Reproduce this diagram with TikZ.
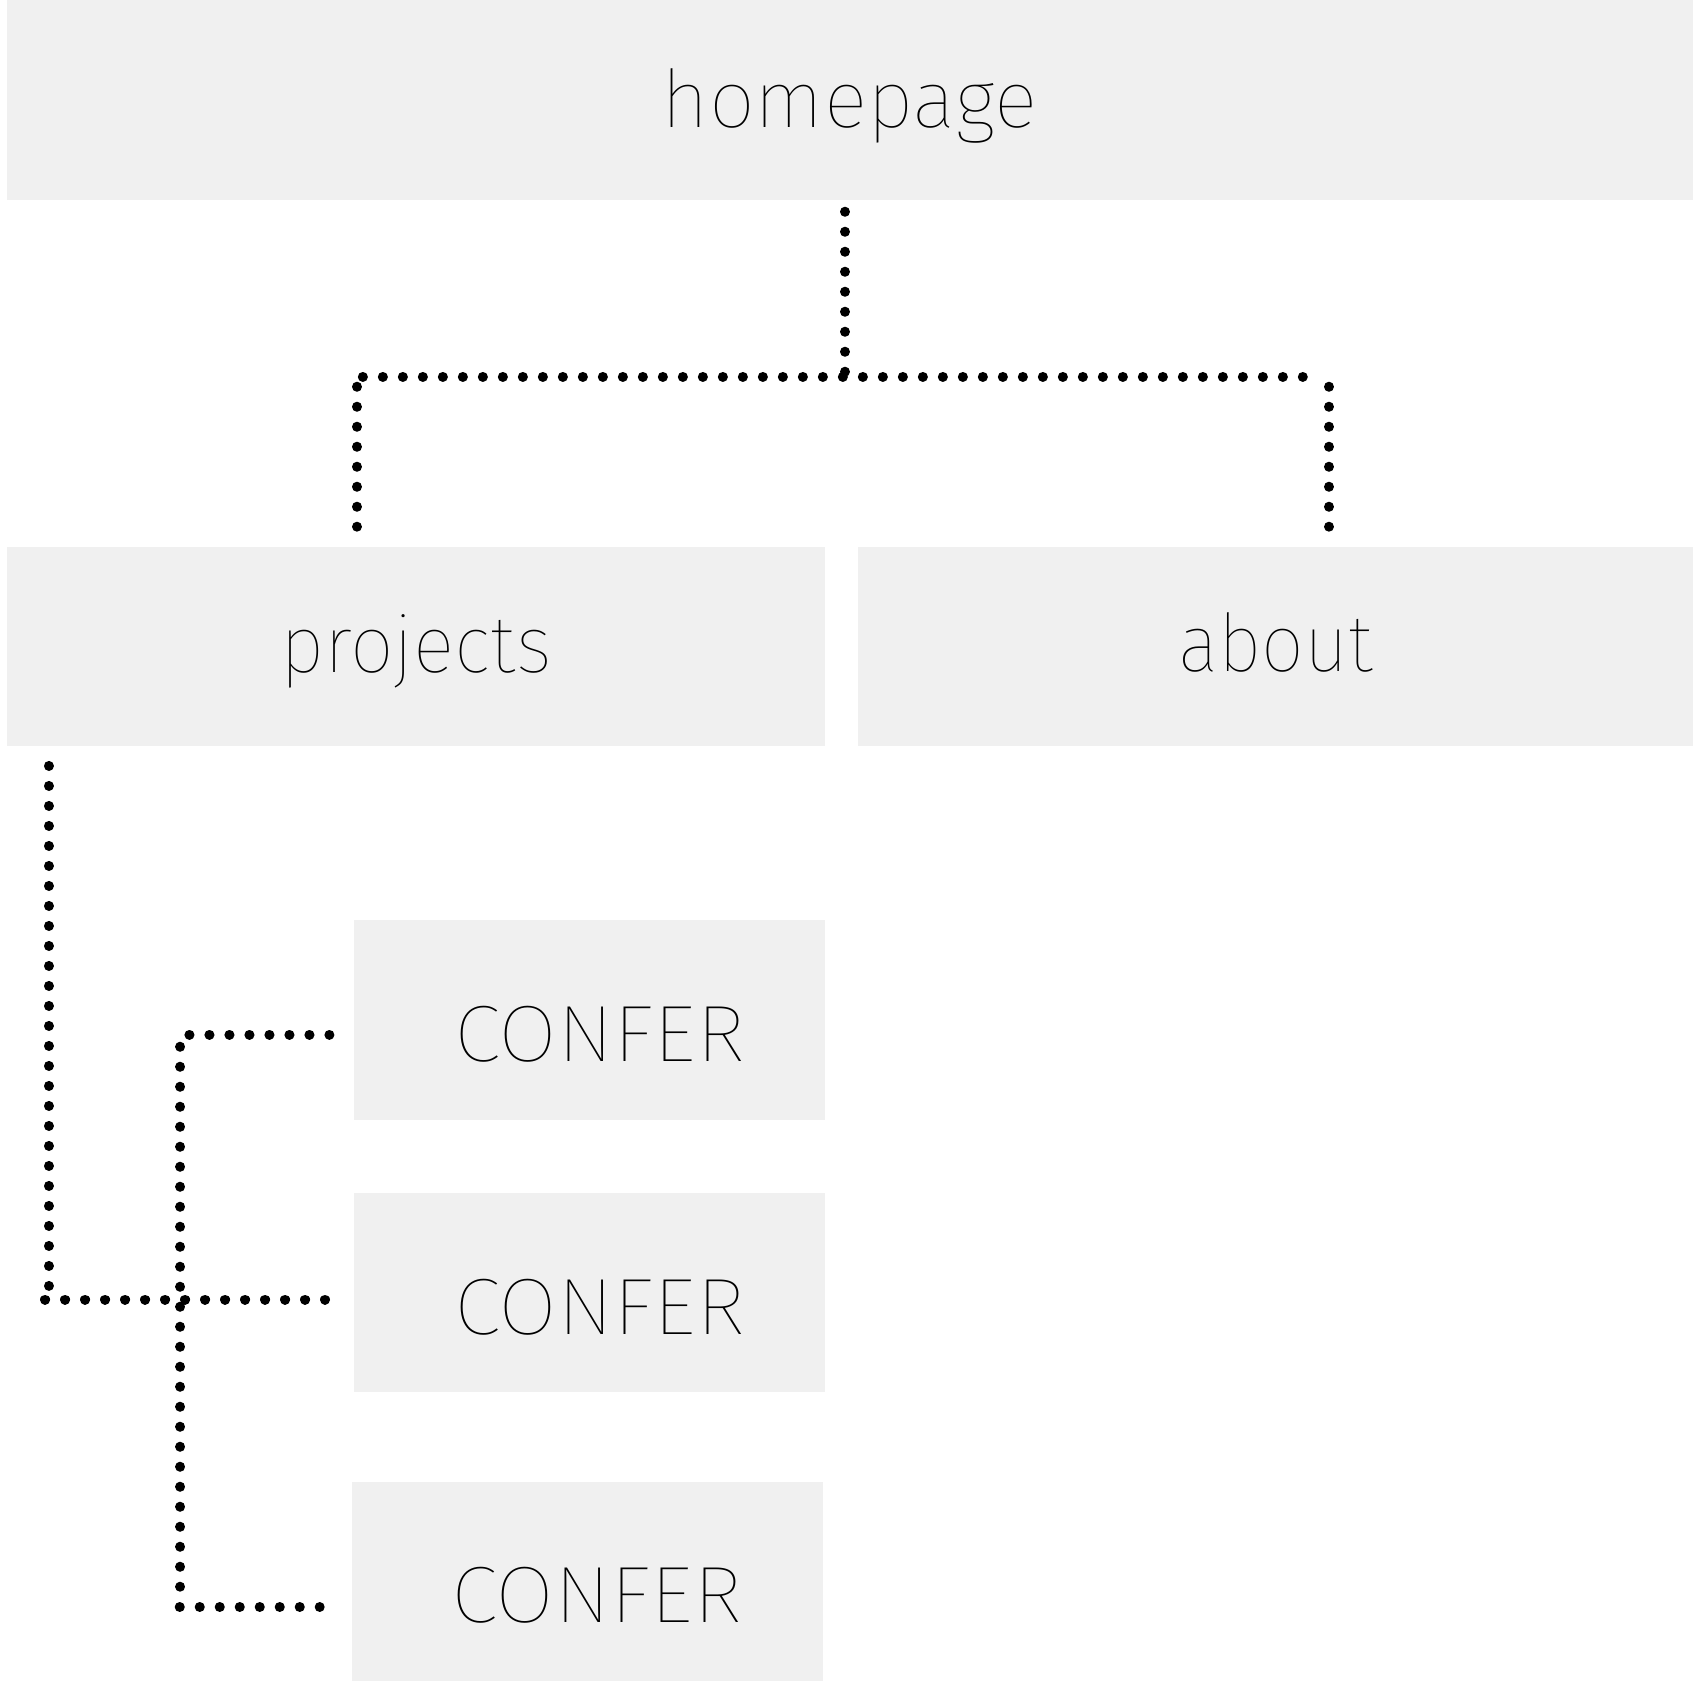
\documentclass[tikz,border=0pt]{standalone}
\usepackage{fontspec}
\IfFontExistsTF{Fira Sans Thin}{\setmainfont{Fira Sans Thin}}{\setmainfont{Fira Sans ExtraLight}}
\definecolor{boxgray}{HTML}{F0F0F0}
\begin{document}
\begin{tikzpicture}[x=1pt,y=-1pt,
  pbox/.style={fill=boxgray,draw=none,inner sep=0pt,anchor=north west},
  lbl/.style={anchor=base,inner sep=0pt,font=\fontsize{80}{96}\selectfont},
  dotline/.style={line width=10pt,line cap=round,dash pattern=on 0.1pt off 19.9pt}]
\useasboundingbox[fill=white] (0,0) rectangle (1698,1681);
% boxes
\node[pbox,minimum width=1686pt,minimum height=200pt] (home) at (6.5,0) {};
\node[pbox,minimum width=818.5pt,minimum height=199pt] (proj) at (6.5,547) {};
\node[pbox,minimum width=835pt,minimum height=199pt] (about) at (857.6,547) {};
\node[pbox,minimum width=471pt,minimum height=200pt] (c1) at (354,919.5) {};
\node[pbox,minimum width=471pt,minimum height=199.5pt] (c2) at (354,1192.5) {};
\node[pbox,minimum width=471pt,minimum height=199.5pt] (c3) at (352,1481.5) {};
% labels
\node[lbl] (homet) at (849.5,127) {\scalebox{1.02}[1]{homepage}};
\node[lbl] (projt) at (416,672.5) {\scalebox{0.97}[1]{projects}};
\node[lbl] (aboutt) at (1275.5,671) {\scalebox{0.95}[1]{about}};
\node[lbl] (c1t) at (599.5,1061.5) {\scalebox{1.068}[1]{CONFER}};
\node[lbl] (c2t) at (599.5,1334.5) {\scalebox{1.068}[1]{CONFER}};
\node[lbl] (c3t) at (596.5,1622.5) {\scalebox{1.068}[1]{CONFER}};
% connector points
\coordinate (h1) at (845,211.7);
\coordinate (h2) at (845,371.7);
\coordinate (hl) at (362.8,376.7);
\coordinate (hr) at (1302.8,376.7);
\coordinate (pt) at (357,386.7);
\coordinate (pe) at (357,526.7);
\coordinate (at) at (1329,386.7);
\coordinate (ae) at (1329,526.7);
\coordinate (v1) at (48.8,765.9);
\coordinate (v1b) at (48.8,1285.9);
\coordinate (v1l) at (45,1299.5);
\coordinate (v1e) at (325,1299.5);
\coordinate (w1) at (329.4,1034.6);
\coordinate (w1s) at (189.4,1034.6);
\coordinate (w1c) at (180.3,1046.7);
\coordinate (w1b) at (180.3,1586.7);
\coordinate (w1l) at (179.7,1607);
\coordinate (w1e) at (319.7,1607);
% connectors
\draw[dotline] (h1) -- (h2);
\draw[dotline] (hl) -- (hr);
\draw[dotline] (pt) -- (pe);
\draw[dotline] (at) -- (ae);
\draw[dotline] (v1) -- (v1b);
\draw[dotline] (v1l) -- (v1e);
\draw[dotline] (w1s) -- (w1);
\draw[dotline] (w1c) -- (w1b);
\draw[dotline] (w1l) -- (w1e);
\end{tikzpicture}
\end{document}
